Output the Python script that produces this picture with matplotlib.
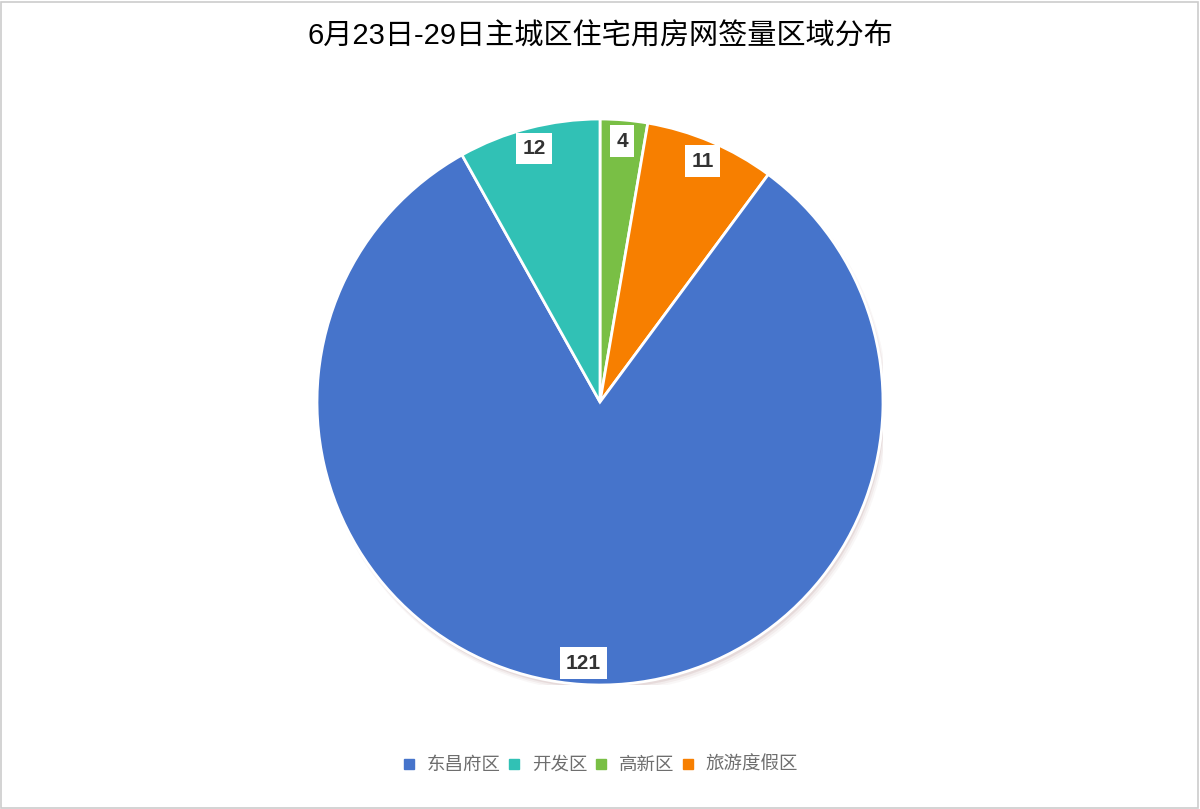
import matplotlib
matplotlib.use("Agg")
import matplotlib.pyplot as plt
from matplotlib.lines import Line2D
from matplotlib.patches import Circle, Rectangle
import numpy as np

# data (legend order)
categories = ['东昌府区', '开发区', '高新区', '旅游度假区']
values = [121, 12, 4, 11]
colors = ['#4674CB', '#31C1B5', '#79BF45', '#F77F00']
title = '6月23日-29日主城区住宅用房网签量区域分布'

# drawing order clockwise from top
draw_order = [2, 3, 0, 1]

plt.rcParams['font.family'] = ['Liberation Sans', 'Noto Sans CJK SC', 'DejaVu Sans']

W, H = 1200, 809
fig = plt.figure(figsize=(W / 100, H / 100), dpi=100)
fig.patch.set_facecolor('white')

# border
fig.add_artist(Rectangle((1 / W, 1 / H), 1 - 3 / W, 1 - 3 / H, transform=fig.transFigure,
                         fill=False, edgecolor='#cccccc', linewidth=1.2))

cx, cy, R = 600, 402, 283
ax = fig.add_axes([(cx - R) / W, (H - cy - R) / H, 2 * R / W, 2 * R / H])

# soft shadow
for i, a in enumerate([0.12, 0.08, 0.05]):
    ax.add_patch(Circle((0.006 + i * 0.003, -0.012 - i * 0.004), 1.0 + i * 0.003,
                        facecolor='#9a6a6a', alpha=a, edgecolor='none', zorder=0))

vals = [values[i] for i in draw_order]
cols = [colors[i] for i in draw_order]
wedges, _ = ax.pie(vals, colors=cols, startangle=90, counterclock=False, radius=1.0,
                   wedgeprops=dict(edgecolor='white', linewidth=2), center=(0, 0))
for w in wedges:
    w.set_zorder(2)

total = sum(vals)
ang = 90.0
for v in vals:
    span = v / total * 360
    mid = np.deg2rad(ang - span / 2)
    r = 0.925
    ax.text(r * np.cos(mid), r * np.sin(mid), str(v), ha='center', va='center',
            fontsize=15, fontweight='bold', color='#333333', zorder=5,
            bbox=dict(boxstyle='square,pad=0.3', facecolor='white', edgecolor='none'))
    ang -= span

ax.set_xlim(-1, 1)
ax.set_ylim(-1, 1)
ax.set_aspect('auto')
ax.axis('off')

fig.text(0.5, 1 - 37 / H, title, ha='center', va='center', fontsize=21, color='#000000')

handles = [Line2D([0], [0], marker='s', linestyle='none', markersize=7.5,
                  markerfacecolor=c, markeredgecolor=c) for c in colors]
leg = fig.legend(handles, categories, loc='center', bbox_to_anchor=(0.5, 1 - 765 / H),
                 ncol=4, frameon=False, handlelength=0.8, handletextpad=0.55,
                 columnspacing=0.35, prop={'family': ['Noto Sans CJK SC'], 'size': 13.3})
for t in leg.get_texts():
    t.set_color('#6e6e6e')

fig.savefig('out.png', dpi=100, facecolor='white')
